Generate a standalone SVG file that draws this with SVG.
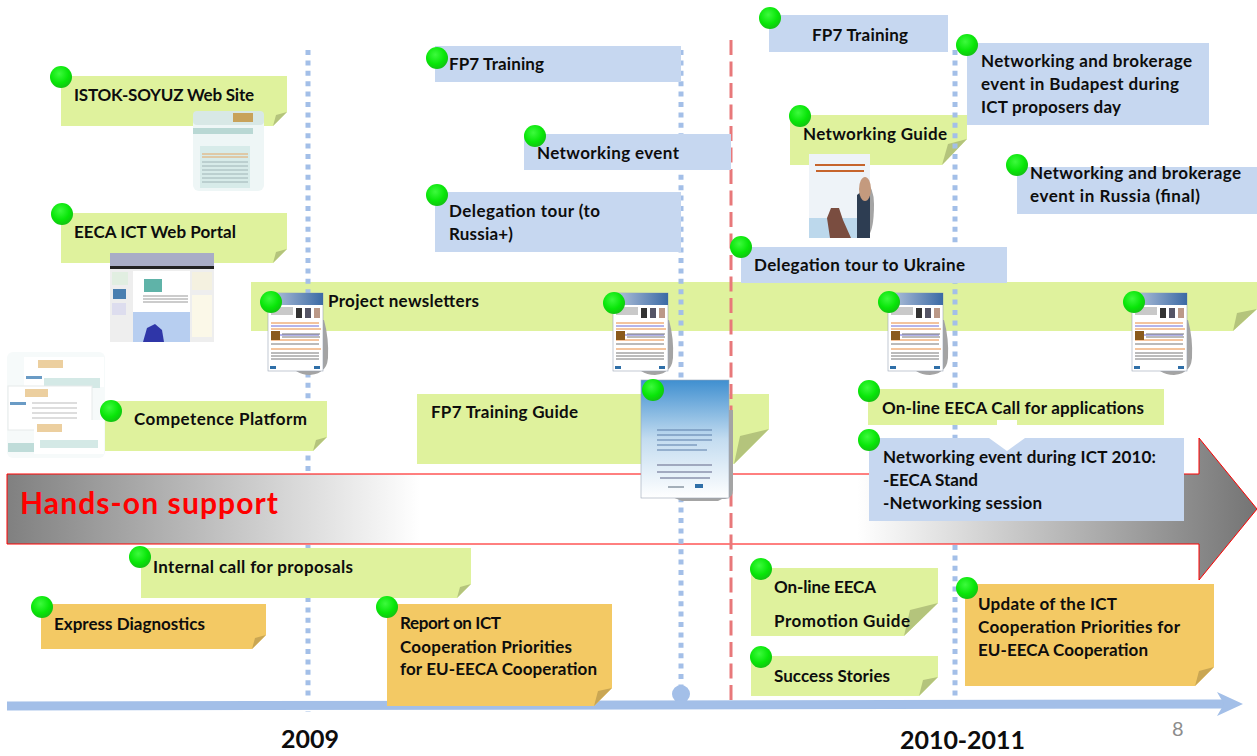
<svg xmlns="http://www.w3.org/2000/svg" xmlns:xlink="http://www.w3.org/1999/xlink" width="1257" height="756" viewBox="0 0 1257 756">
<style>
text{font-family:Lato,"Open Sans","Liberation Sans",sans-serif;font-weight:700;font-size:17px;fill:#0d0d0d}
.g{fill:#dff29d}.gf{fill:#b4c47c}
.b{fill:#c6d7f0}
.o{fill:#f3c964}.of{fill:#c9a653}
.dot{fill:none;stroke:#a3bfe8;stroke-width:5;stroke-dasharray:5 5.4}
</style>
<defs>
<radialGradient id="ball" cx="0.42" cy="0.35" r="0.65"><stop offset="0" stop-color="#3dfa3d"/><stop offset="0.65" stop-color="#08e608"/><stop offset="1" stop-color="#12c412"/></radialGradient>
<linearGradient id="hands" x1="0" x2="1" y1="0" y2="0"><stop offset="0" stop-color="#808080"/><stop offset="0.33" stop-color="#fff"/><stop offset="0.68" stop-color="#fff"/><stop offset="1" stop-color="#747474"/></linearGradient>
<linearGradient id="fp7g" x1="0" x2="0" y1="0" y2="1"><stop offset="0" stop-color="#3f8fd0"/><stop offset="0.5" stop-color="#c3dcf0"/><stop offset="1" stop-color="#fff"/></linearGradient>
<linearGradient id="sky" x1="0" x2="1" y1="0" y2="0"><stop offset="0" stop-color="#b9c7dd"/><stop offset="1" stop-color="#3b6aa5"/></linearGradient>
<symbol id="news" width="62" height="82" viewBox="0 0 62 82" overflow="visible">
<path d="M46 27h10q5 18 4 38q-1 10-6 12q-2 4-12 5q-8 0-14-4z" fill="#a4a4a4"/>
<rect x="0" y="0" width="55" height="78" fill="#fff" stroke="#9aa5b5" stroke-width="0.6"/>
<rect x="0" y="0" width="55" height="12" fill="url(#sky)"/>
<rect x="3" y="14" width="22" height="8" fill="#c9c9c9"/>
<rect x="28" y="15" width="6" height="10" fill="#333"/><rect x="37" y="15" width="6" height="10" fill="#556"/><rect x="46" y="15" width="6" height="10" fill="#b98"/>
<path d="M3 30h48M3 36h50M3 47h48M3 56h50" stroke="#e98a3c" stroke-width="1"/>
<path d="M3 33h48M3 42h48" stroke="#6a6ad8" stroke-width="1"/>
<rect x="3" y="38" width="9" height="9" fill="#8a5a1c"/>
<path d="M14 41h38M14 44h38M3 51h48M3 60h48M3 63h48M3 66h48" stroke="#777" stroke-width="1"/>
<rect x="2" y="73" width="6" height="3" fill="#2f6fa8"/><rect x="46" y="73" width="6" height="3" fill="#2f6fa8"/>
</symbol>
</defs>

<g id="node-project-newsletters">
<path class="g" d="M251 282H1257V309L1233 331H251z"/><path class="gf" d="M1257 309L1237 313L1233 331z"/>
<text x="328" y="307" textLength="151">Project newsletters</text>
</g>
<g id="node-fp7-training-guide-note">
<path class="g" d="M417 394H769V429L734 464H417z"/><path class="gf" d="M769 429L740 436L734 464z"/>
<text x="431" y="418" textLength="147">FP7 Training Guide</text>
</g>
<g id="node-networking-guide">
<path class="g" d="M790 115H967V139L942 165H790z"/><path class="gf" d="M967 139L948 144L942 165z"/>
<text x="803" y="140" textLength="144">Networking Guide</text>
</g>
<g id="node-hands-on">
<path d="M7 474H1199V438L1257 509L1199 580V544H7z" fill="url(#hands)" stroke="#f00" stroke-width="1"/>
<text x="20" y="514" textLength="258" style="font-size:30px;fill:#f00">Hands-on support</text>
</g>

<g id="connectors">
<path class="dot" d="M308 50V474M308 545V712"/>
<path class="dot" d="M681 50V696"/>
<path class="dot" d="M955 50V474M955 545V700"/>
<path d="M731 40V708" fill="none" stroke="#e8787a" stroke-width="3" stroke-dasharray="15 6.5"/>
<circle cx="681" cy="694" r="9" fill="#a3bfe8"/>
<path d="M7 706L1225 704" fill="none" stroke="#a3bfe8" stroke-width="9"/>
<path d="M1217 692L1243 704L1217 716L1224 704z" fill="#a3bfe8"/>
</g>

<g id="node-istok">
<path class="g" d="M61 76H287V112L273 126H61z"/><path class="gf" d="M287 112L276 115L273 126z"/>
<text x="74" y="101" textLength="180">ISTOK-SOYUZ Web Site</text>
<rect x="193" y="111" width="71" height="80" rx="6" fill="#eef6f6"/>
<rect x="193" y="111" width="71" height="14" rx="4" fill="#d8e8e6"/><rect x="193" y="128" width="60" height="6" fill="#b9d8d4"/>
<rect x="200" y="146" width="50" height="42" fill="#d7ebe9"/>
<path d="M202 154h46M202 157h46" stroke="#e5a662" stroke-width="1"/>
<path d="M202 162h46M202 166h46M202 170h46M202 174h46M202 178h46M202 182h46" stroke="#9fb4b6" stroke-width="1"/>
<rect x="233" y="113" width="20" height="9" fill="#c8a25a"/>
</g>
<g id="node-portal">
<path class="g" d="M61 213H287V249L273 263H61z"/><path class="gf" d="M287 249L276 252L273 263z"/>
<text x="74" y="238" textLength="162">EECA ICT Web Portal</text>
<rect x="110" y="253" width="104" height="89" fill="#eeeeee"/>
<rect x="110" y="253" width="104" height="13" fill="#a9adc6"/><rect x="110" y="266" width="104" height="3" fill="#222"/>
<rect x="133" y="271" width="57" height="66" fill="#fff"/>
<rect x="144" y="279" width="18" height="13" fill="#5fb3a8"/>
<path d="M143 296h45M143 299h45M143 302h45" stroke="#999"/>
<rect x="112" y="272" width="16" height="13" fill="#e1eee1"/><rect x="113" y="289" width="13" height="10" fill="#4a7fb0"/><rect x="112" y="303" width="14" height="12" fill="#dde"/>
<rect x="133" y="312" width="57" height="30" fill="#b7cef0"/>
<path d="M143 342l4-14 8-4 7 6 2 12z" fill="#2f36a8"/>
<rect x="192" y="272" width="20" height="18" fill="#f4f1e0"/><rect x="192" y="295" width="20" height="42" fill="#fbf8e8"/>
</g>
<g id="node-competence">
<path class="g" d="M105 401H327V437L313 451H105z"/><path class="gf" d="M327 437L316 440L313 451z"/>
<text x="134" y="425" textLength="173">Competence Platform</text>
<rect x="7" y="352" width="98" height="106" rx="6" fill="#f6fafa"/>
<rect x="24" y="357" width="80" height="30" fill="#fff"/><rect x="38" y="360" width="25" height="8" fill="#eccf9f"/><rect x="26" y="376" width="16" height="3" fill="#6a9bc5"/><rect x="44" y="378" width="56" height="10" fill="#d4e9e6"/>
<rect x="8" y="386" width="84" height="44" fill="#fff" stroke="#e6eaea"/><rect x="25" y="389" width="23" height="8" fill="#eccf9f"/><rect x="10" y="402" width="16" height="3" fill="#6a9bc5"/>
<path d="M32 403h45M32 408h45M32 413h45M32 418h45" stroke="#bbb"/>
<rect x="34" y="420" width="70" height="34" fill="#fff"/><rect x="37" y="424" width="25" height="8" fill="#eccf9f"/><rect x="40" y="440" width="58" height="8" fill="#d4e9e6"/><rect x="8" y="443" width="26" height="9" fill="#bfdcd9"/>
</g>
<g id="node-nl-1"><use xlink:href="#news" href="#news" x="268" y="293"/></g>
<g id="node-nl-2"><use xlink:href="#news" href="#news" x="613" y="293"/></g>
<g id="node-nl-3"><use xlink:href="#news" href="#news" x="888" y="293"/></g>
<g id="node-nl-4"><use xlink:href="#news" href="#news" x="1132" y="293"/></g>
<g id="node-fp7-guide-image">
<path d="M720 410h13v80q0 8-8 9h-20z" fill="#a4a4a4"/><path d="M672 497h54l-8 4h-36z" fill="#a4a4a4"/>
<rect x="641" y="380" width="88" height="118" fill="url(#fp7g)" stroke="#9aa5b5" stroke-width="0.6"/>
<path d="M657 430h55M657 435h55M657 440h55M657 445h40M657 450h50" stroke="#5b7ca8" stroke-width="1.2"/>
<path d="M657 465h55M657 472h55M660 478h50" stroke="#8c93ad" stroke-width="1.5"/><path d="M668 487h16" stroke="#567"/><rect x="695" y="484" width="8" height="4" fill="#2f6fa8"/>
</g>
<g id="node-networking-guide-image">
<path d="M865 180q9 8 9 24q0 26-6 32q-10 4-22 0z" fill="#a4a4a4"/>
<rect x="809" y="154" width="61" height="84" fill="#eef3f8"/>
<path d="M809 218h61v20h-61z" fill="#bcd8ec"/><path d="M830 238l-3-20 4-10h8l4 12 8 18z" fill="#7a4d40"/>
<path d="M857 195l5-4 8 0v47h-13z" fill="#2d3d52"/><ellipse cx="865" cy="189" rx="6" ry="12" fill="#c49a7e"/>
<path d="M815 165h50M816 171h48" stroke="#c6642c" stroke-width="2"/>
</g>
<g id="node-fp7-a"><rect class="b" x="435" y="46" width="246" height="36"/><text x="449" y="70" textLength="95">FP7 Training</text></g>
<g id="node-fp7-b"><rect class="b" x="769" y="15" width="179" height="37"/><text x="812" y="41" textLength="96">FP7 Training</text></g>
<g id="node-networking-event"><rect class="b" x="524" y="134" width="207" height="36"/><text x="537" y="159" textLength="142">Networking event</text></g>
<g id="node-delegation-russia"><rect class="b" x="435" y="192" width="246" height="60"/><text x="449" y="217" textLength="151">Delegation tour (to</text><text x="449" y="240" textLength="64">Russia+)</text></g>
<g id="node-delegation-ukraine"><rect class="b" x="741" y="247" width="266" height="36"/><text x="754" y="271" textLength="211">Delegation tour to Ukraine</text></g>
<g id="node-budapest"><rect class="b" x="967" y="43" width="242" height="82"/><text x="981" y="67" textLength="211">Networking and brokerage</text><text x="981" y="90" textLength="198">event in Budapest during</text><text x="981" y="113" textLength="140">ICT proposers day</text></g>
<g id="node-russia"><rect class="b" x="1017" y="167" width="240" height="47"/><text x="1030" y="179" textLength="211">Networking and brokerage</text><text x="1030" y="202" textLength="170">event in Russia (final)</text></g>
<g id="node-call"><rect class="g" x="868" y="389" width="296" height="36"/><text x="882" y="414" textLength="262">On-line EECA Call for applications</text></g>
<g id="node-ict2010"><rect class="b" x="869" y="438" width="315" height="83"/>
<path d="M997 420H1017V438H1025L1007 451L989 438H997z" fill="#fff"/>
<text x="883" y="463" textLength="273">Networking event during ICT 2010:</text><text x="883" y="486" textLength="95">-EECA Stand</text><text x="883" y="509" textLength="159">-Networking session</text></g>
<g id="node-internal"><path class="g" d="M141 548H471V584L457 598H141z"/><path class="gf" d="M471 584L460 587L457 598z"/><text x="153" y="573" textLength="200">Internal call for proposals</text></g>
<g id="node-express"><path class="o" d="M41 604H266V635L252 649H41z"/><path class="of" d="M266 635L255 638L252 649z"/><text x="54" y="630" textLength="151">Express Diagnostics</text></g>
<g id="node-report"><path class="o" d="M387 604H612V688L594 706H387z"/><path class="of" d="M612 688L598 691L594 706z"/><text x="400" y="629" textLength="101">Report on ICT</text><text x="400" y="653" textLength="172">Cooperation Priorities</text><text x="400" y="675" textLength="197">for EU-EECA Cooperation</text></g>
<g id="node-promotion"><path class="g" d="M751 568H938V603L904 636H751z"/><path class="gf" d="M938 603L910 610L904 636z"/><text x="774" y="593" textLength="102">On-line EECA</text><text x="774" y="627" textLength="136">Promotion Guide</text></g>
<g id="node-success"><path class="g" d="M751 656H938V677L919 696H751z"/><path class="gf" d="M938 677L923 680L919 696z"/><text x="774" y="682" textLength="116">Success Stories</text></g>
<g id="node-update"><path class="o" d="M965 584H1214V667L1195 686H965z"/><path class="of" d="M1214 667L1199 671L1195 686z"/><text x="978" y="610" textLength="139">Update of the ICT</text><text x="978" y="633" textLength="202">Cooperation Priorities  for</text><text x="978" y="656" textLength="170">EU-EECA Cooperation</text></g>

<g id="balls" fill="url(#ball)">
<circle cx="61" cy="77" r="11"/><circle cx="62" cy="214" r="11"/><circle cx="111" cy="411" r="11"/><circle cx="271" cy="302" r="11"/><circle cx="614" cy="303" r="11"/><circle cx="889" cy="302" r="11"/><circle cx="1134" cy="302" r="11"/><circle cx="653" cy="390" r="11"/><circle cx="437" cy="58" r="11"/><circle cx="535" cy="136" r="11"/><circle cx="437" cy="195" r="11"/><circle cx="770" cy="18" r="11"/><circle cx="967" cy="45" r="11"/><circle cx="800" cy="116" r="11"/><circle cx="1017" cy="165" r="11"/><circle cx="741" cy="247" r="11"/><circle cx="869" cy="391" r="11"/><circle cx="869" cy="440" r="11"/><circle cx="140" cy="557" r="11"/><circle cx="42" cy="607" r="11"/><circle cx="387" cy="607" r="11"/><circle cx="761" cy="569" r="11"/><circle cx="761" cy="657" r="11"/><circle cx="967" cy="588" r="11"/>
</g>
<text x="281" y="748" textLength="58" style="font-size:25px">2009</text>
<text x="900" y="749" textLength="125" style="font-size:25px">2010-2011</text>
<text x="1172" y="736" style="font-size:20px;font-weight:400;fill:#8c8c8c">8</text>
</svg>
